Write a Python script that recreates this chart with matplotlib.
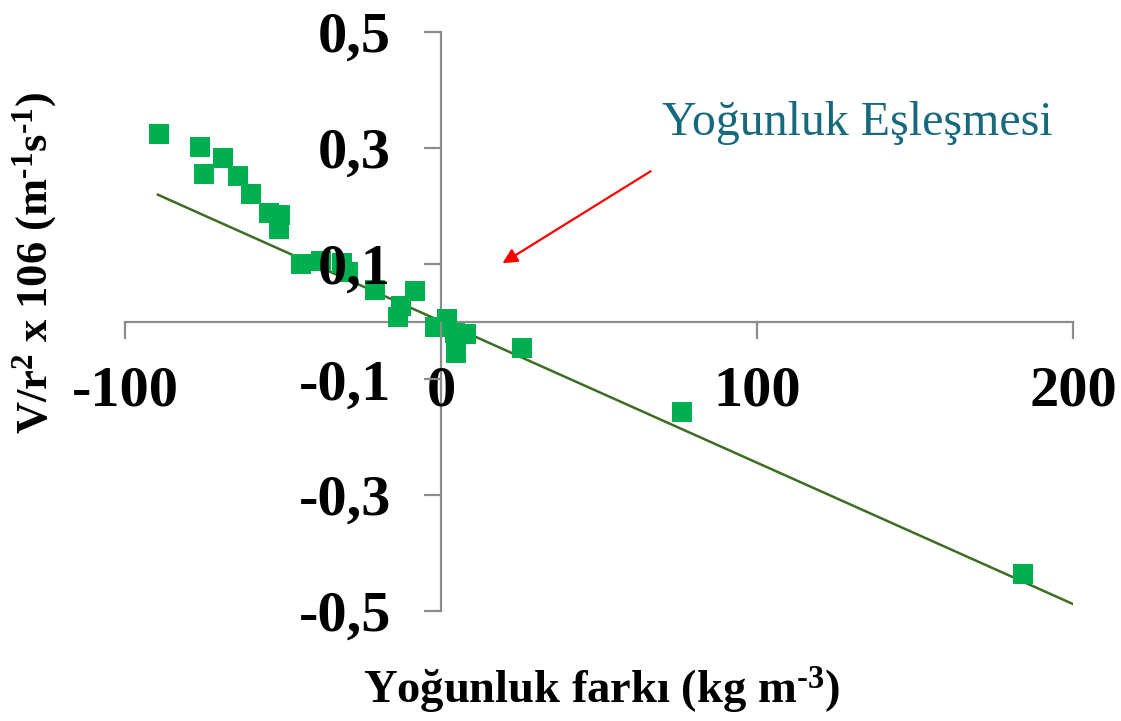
import matplotlib
matplotlib.use("Agg")
import matplotlib.pyplot as plt

# Data
density_diff = [-89.1, -76.3, -69.1, -74.9, -64.1, -60.2, -54.3, -50.9, -51.3, -44.3,
                -37.9, -31.4, -29.4, -20.9, -8.2, -12.7, -13.6,
                -1.9, 1.9, 4.4, 7.9, 4.7, 25.5, 76.3, 184.2]
velocity = [0.324, 0.301, 0.282, 0.255, 0.251, 0.221, 0.187, 0.184, 0.159, 0.099,
            0.104, 0.101, 0.086, 0.055, 0.052, 0.026, 0.007,
            -0.010, 0.005, -0.019, -0.022, -0.055, -0.045, -0.157, -0.436]
trend_x = [-89.6, 200.0]
trend_y = [0.219, -0.488]

x_ticks = [-100, 0, 100, 200]
x_ticklabels = ["-100", "0", "100", "200"]
y_ticks = [0.5, 0.3, 0.1, -0.1, -0.3, -0.5]
y_ticklabels = ["0,5", "0,3", "0,1", "-0,1", "-0,3", "-0,5"]

annotation_text = "Yoğunluk Eşleşmesi"
arrow_tail = (67.1, 0.262)
arrow_head = (18.7, 0.098)

plt.rcParams['font.family'] = ['Liberation Serif', 'DejaVu Serif']
plt.rcParams['mathtext.fontset'] = 'custom'
plt.rcParams['mathtext.rm'] = 'Liberation Serif:bold'
plt.rcParams['mathtext.bf'] = 'Liberation Serif:bold'
plt.rcParams['mathtext.it'] = 'Liberation Serif:bold'

W, H = 1121, 721
fig = plt.figure(figsize=(W / 100, H / 100), dpi=100)
ax = fig.add_axes([125 / W, 1 - 611 / H, (1073 - 125) / W, (611 - 32) / H])

ax.set_xlim(-100, 200)
ax.set_ylim(-0.5, 0.5)

axis_color = '#8c8c8c'
for s in ['top', 'right']:
    ax.spines[s].set_visible(False)
ax.spines['left'].set_position(('data', 0))
ax.spines['bottom'].set_position(('data', 0))
for s in ['left', 'bottom']:
    ax.spines[s].set_color(axis_color)
    ax.spines[s].set_linewidth(1.6)
    ax.spines[s].set_zorder(1.5)

ax.set_xticks(x_ticks)
ax.set_xticklabels(x_ticklabels)
ax.set_yticks(y_ticks)
ax.set_yticklabels(y_ticklabels)
ax.tick_params(axis='both', direction='out', length=12, width=1.6, color=axis_color,
               labelsize=42)
ax.tick_params(axis='y', pad=24)
ax.tick_params(axis='x', pad=20)
for lab in ax.get_xticklabels() + ax.get_yticklabels():
    lab.set_fontweight('bold')
ax.xaxis.set_zorder(5)
ax.yaxis.set_zorder(5)

ax.plot(trend_x, trend_y, color='#3b6e22', lw=1.8, zorder=2)
ax.plot(density_diff, velocity, linestyle='none', marker='s', markersize=14,
        color='#00b050', markeredgewidth=0, zorder=3, clip_on=False)

fig.text(857 / W, 1 - 123 / H, annotation_text, color='#17697e', fontsize=34.5,
         ha='center', va='center')
ax.annotate('', xy=arrow_head, xytext=arrow_tail,
            arrowprops=dict(arrowstyle='-|>', color='red', lw=1.6, mutation_scale=22))

fig.text(601 / W, 1 - 690 / H, r'Yoğunluk farkı (kg m$^{\text{-3}}$)', fontsize=33.5,
         fontweight='bold', ha='center', va='center')
fig.text(35 / W, 1 - 263 / H, r'V/r$^{2}$ x 106 (m$^{\text{-1}}$s$^{\text{-1}}$)', fontsize=32,
         fontweight='bold', ha='center', va='center', rotation=90)

fig.savefig('out.png', dpi=100, facecolor='white')
